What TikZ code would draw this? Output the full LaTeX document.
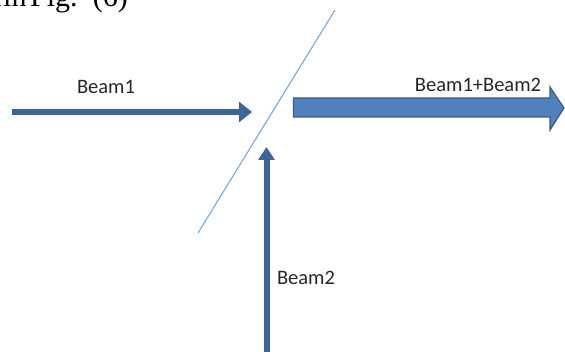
\documentclass[tikz,border=0pt]{standalone}
\usepackage{fontspec}
\setmainfont{Carlito}
\newfontfamily\serifpage{Liberation Serif}
\usetikzlibrary{arrows.meta}
\definecolor{beamblue}{HTML}{3D6598}
\definecolor{fillblue}{HTML}{4F81BD}
\definecolor{edgeblue}{HTML}{385D8A}
\definecolor{splitblue}{HTML}{7EA6D8}
\tikzset{
  beamlbl/.style={font=\fontsize{20.5}{24}\selectfont, text=black!85, inner sep=0pt},
  pagetxt/.style={font=\serifpage\fontsize{30}{34}\selectfont, inner sep=0pt},
  thinbeam/.style={draw=beamblue, line width=6pt, -{Triangle[length=13pt,width=20pt]}},
  thinbeamv/.style={draw=beamblue, line width=6pt, -{Triangle[length=13pt,width=16pt]}},
  splitter/.style={draw=splitblue, line width=1.1pt},
  bigbeam/.style={fill=fillblue, draw=edgeblue, line width=1.2pt, line join=miter}
}
\begin{document}
\begin{tikzpicture}[x=1pt,y=-1pt]
\useasboundingbox (0,0) rectangle (565,352);
\begin{scope}
\clip (0,0) rectangle (565,352);
\node[pagetxt, anchor=base east] (w1) at (2,7) {l};
\node[pagetxt, anchor=base west] (w2) at (3,7) {in};
\node[pagetxt, anchor=base west] (w3) at (30,7) {Fig.};
\node[pagetxt, anchor=base east] (w4) at (128,7) {(6)};
\end{scope}
% splitter
\coordinate (sb) at (198,233);
\coordinate (st) at (335,10);
\draw[splitter] (sb) -- (st);
% beam 1
\coordinate (b1s) at (12,112);
\coordinate (b1e) at (252,112);
\draw[thinbeam] (b1s) -- (b1e);
\node[beamlbl] (l1) at (106,87) {Beam1};
% beam 2
\coordinate (b2s) at (266.5,352);
\coordinate (b2e) at (266.5,147);
\draw[thinbeamv] (b2s) -- (b2e);
\node[beamlbl] (l2) at (306,278) {Beam2};
% combined beam
\draw[bigbeam] (293.5,98) -- (550,98) -- (550,87) -- (564,108) -- (550,130) -- (550,117) -- (293.5,117) -- cycle;
\node[beamlbl] (l3) at (478,85) {Beam1+Beam2};
\end{tikzpicture}
\end{document}
